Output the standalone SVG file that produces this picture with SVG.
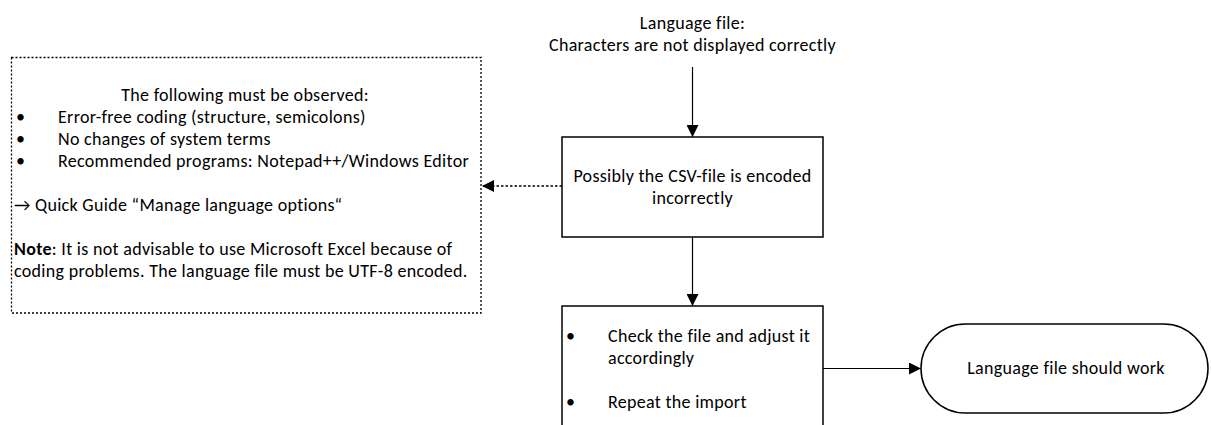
<svg xmlns="http://www.w3.org/2000/svg" width="1212" height="425" viewBox="0 0 1212 425">
<defs>
<style>
text{font-family:Calibri,Carlito,"Liberation Sans",Arial,sans-serif;font-size:18px;letter-spacing:0.3px;fill:#000}
.c{text-anchor:middle}
.box{fill:#fff;stroke:#000;stroke-width:1.5}
.dot{fill:#fff;stroke:#000;stroke-width:1.3;stroke-dasharray:2,2}
.ln{fill:none;stroke:#000;stroke-width:1.2}
.dl{fill:none;stroke:#000;stroke-width:1.3;stroke-dasharray:2.5,2}
</style>
<marker id="ah" viewBox="0 0 12 12" refX="12" refY="6" markerWidth="12" markerHeight="12" markerUnits="userSpaceOnUse" orient="auto">
<path d="M0,0 L12,6 L0,12 Z" fill="#000"/>
</marker>
</defs>
<rect width="1212" height="425" fill="#fff"/>
<g id="start">
<text class="c" x="692.5" y="29">Language file:</text>
<text class="c" x="692.5" y="51">Characters are not displayed correctly</text>
</g>
<g id="connectors">
<line class="ln" x1="692.5" y1="67" x2="692.5" y2="137" marker-end="url(#ah)"/>
<line class="dl" x1="562" y1="186" x2="482" y2="186" marker-end="url(#ah)"/>
<line class="ln" x1="692.5" y1="237" x2="692.5" y2="306" marker-end="url(#ah)"/>
<line class="ln" x1="823" y1="368.5" x2="921" y2="368.5" marker-end="url(#ah)"/>
</g>
<g id="note">
<rect class="dot" x="11.5" y="57.5" width="469.5" height="255.5"/>
<text class="c" x="245" y="101">The following must be observed:</text>
<text x="16" y="123">•</text><text x="58" y="123">Error-free coding (structure, semicolons)</text>
<text x="16" y="145">•</text><text x="58" y="145">No changes of system terms</text>
<text x="16" y="167">•</text><text x="58" y="167">Recommended programs: Notepad++/Windows Editor</text>
<text x="14" y="211">→ Quick Guide “Manage language options“</text>
<text x="14" y="255"><tspan font-weight="bold">Note</tspan>: It is not advisable to use Microsoft Excel because of</text>
<text x="14" y="277">coding problems. The language file must be UTF-8 encoded.</text>
</g>
<g id="encoded">
<rect class="box" x="562" y="137" width="261" height="100"/>
<text class="c" x="692.5" y="182">Possibly the CSV-file is encoded</text>
<text class="c" x="692.5" y="204">incorrectly</text>
</g>
<g id="check">
<rect class="box" x="562" y="306" width="261" height="130"/>
<text x="566" y="342">•</text><text x="608" y="342">Check the file and adjust it</text>
<text x="608" y="364">accordingly</text>
<text x="566" y="408">•</text><text x="608" y="408">Repeat the import</text>
</g>
<g id="works">
<rect class="box" x="921" y="324" width="287" height="89" rx="44.5" ry="44.5"/>
<text class="c" x="1066" y="374">Language file should work</text>
</g>
</svg>
